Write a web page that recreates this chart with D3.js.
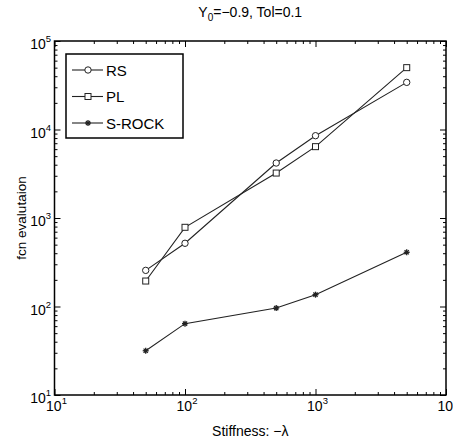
<!DOCTYPE html>
<html>
<head>
<meta charset="utf-8">
<script src="https://cdn.jsdelivr.net/npm/d3@7/dist/d3.min.js"></script>
<style>
  html, body { margin: 0; padding: 0; background: #fff; }
  svg { display: block; font-family: "Liberation Sans", Arial, sans-serif; }
</style>
</head>
<body>
<svg id="chart" width="453" height="442"></svg>
<script>
// ---- data ----
const stiffness = [50, 100, 500, 1000, 5000];
const rsValues = [256, 518, 4180, 8510, 34100];
const plValues = [194, 785, 3220, 6400, 50000];
const srockValues = [31.6, 64, 96, 136, 410];
const seriesNames = ["RS", "PL", "S-ROCK"];
const xTickExps = [1, 2, 3, 4];
const yTickExps = [1, 2, 3, 4, 5];
const titleText = ["Y", "0", "=\u22120.9, Tol=0.1"];
const xLabelText = "Stiffness:  \u2212\u03bb";
const yLabelText = "fcn evalutaion";

const svg = d3.select("#chart");
const L = 54.5, R = 446, T = 41, B = 395;
const x = d3.scaleLog().domain([10, 1e4]).range([L, R]);
const y = d3.scaleLog().domain([10, 1e5]).range([B, T]);

const majorX = xTickExps.map(e => Math.pow(10, e));
const majorY = yTickExps.map(e => Math.pow(10, e));
function minors(lo, hi) {
  const out = [];
  for (let d = lo; d < hi; d *= 10) for (let k = 2; k <= 9; k++) out.push(d * k);
  return out;
}
const minorX = minors(10, 1e4);
const minorY = minors(10, 1e5);

function drawAxis(axisFn, scale, vals, size, transform) {
  const g = svg.append("g").attr("transform", transform)
    .call(axisFn(scale).tickValues(vals).tickSize(size).tickFormat(""));
  g.select(".domain").remove();
  g.selectAll("line").attr("stroke", "#000").attr("stroke-width", 1);
  return g;
}
// inward ticks on all four sides
drawAxis(d3.axisBottom, x, majorX, -6, `translate(0,${B})`);
drawAxis(d3.axisBottom, x, minorX, -3, `translate(0,${B})`);
drawAxis(d3.axisTop, x, majorX, -6, `translate(0,${T})`);
drawAxis(d3.axisTop, x, minorX, -3, `translate(0,${T})`);
drawAxis(d3.axisLeft, y, majorY, -6, `translate(${L},0)`);
drawAxis(d3.axisLeft, y, minorY, -3, `translate(${L},0)`);
drawAxis(d3.axisRight, y, majorY, -6, `translate(${R},0)`);
drawAxis(d3.axisRight, y, minorY, -3, `translate(${R},0)`);

// frame
svg.append("rect").attr("x", L).attr("y", T).attr("width", R - L).attr("height", B - T)
  .attr("fill", "none").attr("stroke", "#000").attr("stroke-width", 1.5);

// tick labels
const fs = 14;
xTickExps.forEach(e => {
  const t = svg.append("text").attr("x", x(Math.pow(10, e)) + 2).attr("y", 411)
    .attr("text-anchor", "middle").attr("font-size", fs);
  t.append("tspan").text("10");
  t.append("tspan").attr("dy", -7).attr("font-size", 9.5).text(e);
});
yTickExps.forEach(e => {
  const t = svg.append("text").attr("x", 51).attr("y", y(Math.pow(10, e)) + 8)
    .attr("text-anchor", "end").attr("font-size", fs);
  t.append("tspan").text("10");
  t.append("tspan").attr("dy", -7).attr("font-size", 9.5).text(e);
});

// title
const tt = svg.append("text").attr("x", (L + R) / 2).attr("y", 17)
  .attr("text-anchor", "middle").attr("font-size", 14);
tt.append("tspan").text(titleText[0]);
tt.append("tspan").attr("dy", 4).attr("font-size", 10).text(titleText[1]);
tt.append("tspan").attr("dy", -4).text(titleText[2]);

// axis labels
svg.append("text").attr("x", (L + R) / 2).attr("y", 436).attr("text-anchor", "middle")
  .attr("font-size", 14).text(xLabelText);
svg.append("text").attr("transform", `translate(26,${(T + B) / 2}) rotate(-90)`)
  .attr("text-anchor", "middle").attr("font-size", 13.5).text(yLabelText);

// series
const series = [
  { name: seriesNames[0], values: rsValues, marker: "circle" },
  { name: seriesNames[1], values: plValues, marker: "square" },
  { name: seriesNames[2], values: srockValues, marker: "star" }
];
const line = d3.line().x(d => x(d[0])).y(d => y(d[1]));
const color = "#222";

function drawMarker(g, type, cx, cy) {
  if (type === "circle") {
    g.append("circle").attr("cx", cx).attr("cy", cy).attr("r", 3.2)
      .attr("fill", "#fff").attr("stroke", color).attr("stroke-width", 1);
  } else if (type === "square") {
    g.append("rect").attr("x", cx - 3).attr("y", cy - 3).attr("width", 6).attr("height", 6)
      .attr("fill", "#fff").attr("stroke", color).attr("stroke-width", 1);
  } else {
    const r = 3;
    [0, 45, 90, 135].forEach(a => {
      const rad = a * Math.PI / 180;
      g.append("line").attr("x1", cx - r * Math.cos(rad)).attr("y1", cy - r * Math.sin(rad))
        .attr("x2", cx + r * Math.cos(rad)).attr("y2", cy + r * Math.sin(rad))
        .attr("stroke", color).attr("stroke-width", 1.3);
    });
    g.append("circle").attr("cx", cx).attr("cy", cy).attr("r", 1.6).attr("fill", color);
  }
}

series.forEach(s => {
  const data = stiffness.map((v, i) => [v, s.values[i]]);
  const g = svg.append("g");
  g.append("path").datum(data).attr("d", line).attr("fill", "none")
    .attr("stroke", color).attr("stroke-width", 1.1);
  data.forEach(d => drawMarker(g, s.marker, x(d[0]), y(d[1])));
});

// legend
const lg = svg.append("g");
lg.append("rect").attr("x", 66).attr("y", 54).attr("width", 117).attr("height", 84)
  .attr("fill", "#fff").attr("stroke", "#000").attr("stroke-width", 1.5);
series.forEach((s, i) => {
  const ly = 70 + i * 26.5;
  lg.append("line").attr("x1", 72).attr("x2", 103).attr("y1", ly).attr("y2", ly)
    .attr("stroke", color).attr("stroke-width", 1.1);
  drawMarker(lg, s.marker, 88, ly);
  lg.append("text").attr("x", 106).attr("y", ly + 5.5).attr("font-size", 15).text(s.name);
});
</script>
</body>
</html>
